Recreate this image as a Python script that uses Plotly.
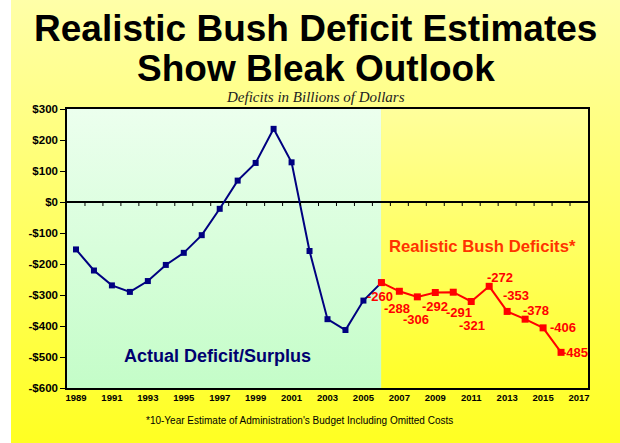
import base64
import plotly.graph_objects as go

# ---------------- data ----------------
years = list(range(1989, 2018))
actual_years = list(range(1989, 2007))
actual_values = [-153, -221, -269, -290, -255, -203, -164, -107, -22, 69,
                 126, 236, 128, -158, -378, -413, -318, -260]
proj_years = list(range(2006, 2017))
proj_values = [-260, -288, -306, -292, -291, -321, -272, -353, -378, -406, -485]
proj_labels = [str(v) for v in proj_values]
y_tick_values = [300, 200, 100, 0, -100, -200, -300, -400, -500, -600]
y_tick_labels = ["$300", "$200", "$100", "$0", "-$100", "-$200", "-$300",
                 "-$400", "-$500", "-$600"]
x_tick_years = years[::2]
x_tick_labels = [str(y) for y in x_tick_years]

title_line1 = "Realistic Bush Deficit Estimates"
title_line2 = "Show Bleak Outlook"
subtitle = "Deficits in Billions of Dollars"
actual_label = "Actual Deficit/Surplus"
proj_title = "Realistic Bush Deficits*"
footnote = "*10-Year Estimate of Administration's Budget Including Omitted Costs"

# label pixel offsets (style only)
label_offsets = [(-1, -14), (-2, -17), (-1, -23), (0, -14), (6, -20), (1, -24),
                 (11, 9), (9, 16), (11, 9), (20, 0), (14, 0)]

# ---------------- layout geometry ----------------
W, H = 620, 443
ML, MR, MT, MB = 67, 32, 109, 55
PW, PH = W - ML - MR, H - MT - MB
FONT = "Liberation Sans, Arial, sans-serif"


def grad(top, bottom):
    svg = ("<svg xmlns='http://www.w3.org/2000/svg' width='10' height='100' "
           "viewBox='0 0 10 100' preserveAspectRatio='none'><defs>"
           "<linearGradient id='g' x1='0' y1='0' x2='0' y2='1'>"
           f"<stop offset='0' stop-color='{top}'/>"
           f"<stop offset='1' stop-color='{bottom}'/>"
           "</linearGradient></defs>"
           "<rect x='0' y='0' width='10' height='100' fill='url(#g)'/></svg>")
    return "data:image/svg+xml;base64," + base64.b64encode(svg.encode()).decode()


fig = go.Figure()

fig.add_trace(go.Scatter(
    x=actual_years, y=actual_values, mode="lines+markers",
    line=dict(color="#000080", width=2),
    marker=dict(symbol="square", size=6, color="#000080"),
    hoverinfo="skip", showlegend=False))

fig.add_trace(go.Scatter(
    x=proj_years, y=proj_values, mode="lines+markers",
    line=dict(color="#ff0000", width=2),
    marker=dict(symbol="square", size=7, color="#ff0000"),
    hoverinfo="skip", showlegend=False))

annotations = []
for yr, v, lab, (dx, dy) in zip(proj_years, proj_values, proj_labels, label_offsets):
    annotations.append(dict(
        x=yr, y=v, xref="x", yref="y", text=lab, showarrow=False,
        xshift=dx, yshift=dy, xanchor="center", yanchor="middle",
        font=dict(family=FONT, size=13, color="#ff0000", weight="bold")))


def py(px):
    return (H - MB - px) / PH


def pxx(px):
    return (px - ML) / PW


annotations += [
    dict(text=title_line1, x=pxx(315), y=py(29), xref="paper", yref="paper",
         showarrow=False, xanchor="center", yanchor="middle",
         font=dict(family=FONT, size=37, color="black", weight="bold")),
    dict(text=title_line2, x=pxx(316), y=py(68), xref="paper", yref="paper",
         showarrow=False, xanchor="center", yanchor="middle",
         font=dict(family=FONT, size=37, color="black", weight="bold")),
    dict(text=subtitle, x=pxx(315), y=py(97), xref="paper", yref="paper",
         showarrow=False, xanchor="center", yanchor="middle",
         font=dict(family="Liberation Serif, Times New Roman, serif", size=15,
                   color="#222222", style="italic")),
    dict(text=actual_label, x=pxx(217), y=py(356), xref="paper", yref="paper",
         showarrow=False, xanchor="center", yanchor="middle",
         font=dict(family=FONT, size=18, color="#000070", weight="bold")),
    dict(text=proj_title, x=pxx(482), y=py(246), xref="paper", yref="paper",
         showarrow=False, xanchor="center", yanchor="middle",
         font=dict(family=FONT, size=16.7, color="#ff3300", weight="bold")),
    dict(text=footnote, x=pxx(299), y=py(421), xref="paper", yref="paper",
         showarrow=False, xanchor="center", yanchor="middle",
         font=dict(family=FONT, size=10, color="black")),
]

# tick marks along the zero line at category boundaries
shapes = []
for yr in years[:-1]:
    shapes.append(dict(type="line", xref="x", yref="y", x0=yr + 0.5, x1=yr + 0.5,
                       ysizemode="pixel", yanchor=0, y0=0, y1=-4,
                       line=dict(color="black", width=1)))

images = [
    dict(source=grad("#ffffa8", "#ffff22"), xref="paper", yref="paper",
         x=pxx(11), y=py(0), sizex=(W - 11) / PW, sizey=H / PH,
         xanchor="left", yanchor="top", sizing="stretch", layer="below"),
    dict(source=grad("#ecffee", "#c4fdc8"), xref="x", yref="paper",
         x=years[0] - 0.5, y=1, sizex=2006 - (years[0] - 0.5), sizey=1,
         xanchor="left", yanchor="top", sizing="stretch", layer="below"),
    dict(source=grad("#ffff9c", "#ffff26"), xref="x", yref="paper",
         x=2006, y=1, sizex=years[-1] + 0.5 - 2006, sizey=1,
         xanchor="left", yanchor="top", sizing="stretch", layer="below"),
]

fig.update_layout(
    width=W, height=H,
    margin=dict(l=ML, r=MR, t=MT, b=MB, pad=0),
    paper_bgcolor="white", plot_bgcolor="rgba(0,0,0,0)",
    showlegend=False,
    annotations=annotations, shapes=shapes, images=images,
    xaxis=dict(range=[years[0] - 0.5, years[-1] + 0.5], tickvals=x_tick_years,
               ticktext=x_tick_labels, ticks="", showgrid=False, zeroline=False,
               showline=True, mirror=True, linecolor="black", linewidth=1.5,
               tickfont=dict(family=FONT, size=9.5, color="black", weight="bold")),
    yaxis=dict(range=[-600, 300], tickvals=y_tick_values, ticktext=y_tick_labels,
               ticks="outside", ticklen=5, tickcolor="black", tickwidth=1,
               showgrid=False, zeroline=True, zerolinecolor="black",
               zerolinewidth=1.5, showline=True, mirror=True, linecolor="black",
               linewidth=1.5,
               tickfont=dict(family=FONT, size=11.5, color="black", weight="bold")),
)

fig.write_html("out.html")
